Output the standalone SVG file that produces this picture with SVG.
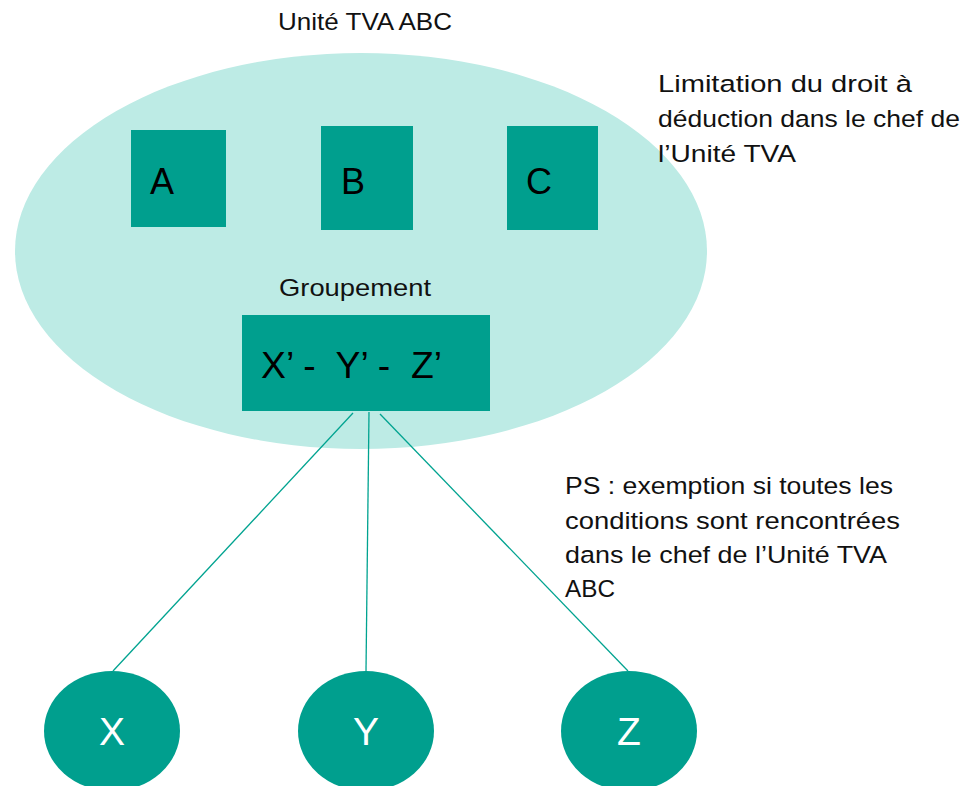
<svg xmlns="http://www.w3.org/2000/svg" width="968" height="786" viewBox="0 0 968 786">
<style>
.note{font-family:"Liberation Sans",Arial,sans-serif;font-size:24.5px;fill:#111}
.box{fill:#009f8e}
.lbl{font-family:"Liberation Sans",Arial,sans-serif;font-size:36px;fill:#000}
.wl{font-family:"Liberation Sans",Arial,sans-serif;font-size:39px;fill:#fff;text-anchor:middle}
.conn{stroke:#00a390;stroke-width:1.3;fill:none}
</style>
<rect width="968" height="786" fill="#fff"/>
<g id="unite">
<ellipse cx="361" cy="251" rx="346" ry="198" fill="#bdebe5"/>
<text class="note" x="278" y="30" textLength="174" lengthAdjust="spacingAndGlyphs">Unité TVA ABC</text>
</g>
<g id="node-A"><rect class="box" x="131" y="130" width="95" height="97"/><text class="lbl" x="150" y="194">A</text></g>
<g id="node-B"><rect class="box" x="321" y="126" width="92" height="104"/><text class="lbl" x="341" y="194">B</text></g>
<g id="node-C"><rect class="box" x="507" y="126" width="91" height="104"/><text class="lbl" x="526" y="194">C</text></g>
<g id="groupement">
<text class="note" x="279" y="296" textLength="152" lengthAdjust="spacingAndGlyphs">Groupement</text>
<rect class="box" x="242" y="315" width="248" height="96"/>
<text class="lbl" x="261" y="378" textLength="181" lengthAdjust="spacingAndGlyphs" xml:space="preserve">X’ -  Y’ -  Z’</text>
</g>
<g id="connectors">
<line class="conn" x1="353" y1="413" x2="113" y2="671"/>
<line class="conn" x1="369" y1="412" x2="366" y2="671"/>
<line class="conn" x1="380" y1="414" x2="628" y2="671"/>
</g>
<g id="node-X"><ellipse class="box" cx="112" cy="731" rx="68" ry="60"/><text class="wl" x="112" y="745">X</text></g>
<g id="node-Y"><ellipse class="box" cx="366" cy="731" rx="68" ry="60"/><text class="wl" x="366" y="745">Y</text></g>
<g id="node-Z"><ellipse class="box" cx="629" cy="731" rx="68" ry="60"/><text class="wl" x="629" y="745">Z</text></g>
<g id="note-limitation">
<text class="note" x="658" y="92" textLength="254" lengthAdjust="spacingAndGlyphs">Limitation du droit à</text>
<text class="note" x="658" y="127" textLength="302" lengthAdjust="spacingAndGlyphs">déduction dans le chef de</text>
<text class="note" x="658" y="162" textLength="138" lengthAdjust="spacingAndGlyphs">l’Unité TVA</text>
</g>
<g id="note-ps">
<text class="note" x="565" y="494" textLength="328" lengthAdjust="spacingAndGlyphs">PS : exemption si toutes les</text>
<text class="note" x="565" y="529" textLength="335" lengthAdjust="spacingAndGlyphs">conditions sont rencontrées</text>
<text class="note" x="565" y="563" textLength="322" lengthAdjust="spacingAndGlyphs">dans le chef de l’Unité TVA</text>
<text class="note" x="565" y="597" textLength="50" lengthAdjust="spacingAndGlyphs">ABC</text>
</g>
</svg>
